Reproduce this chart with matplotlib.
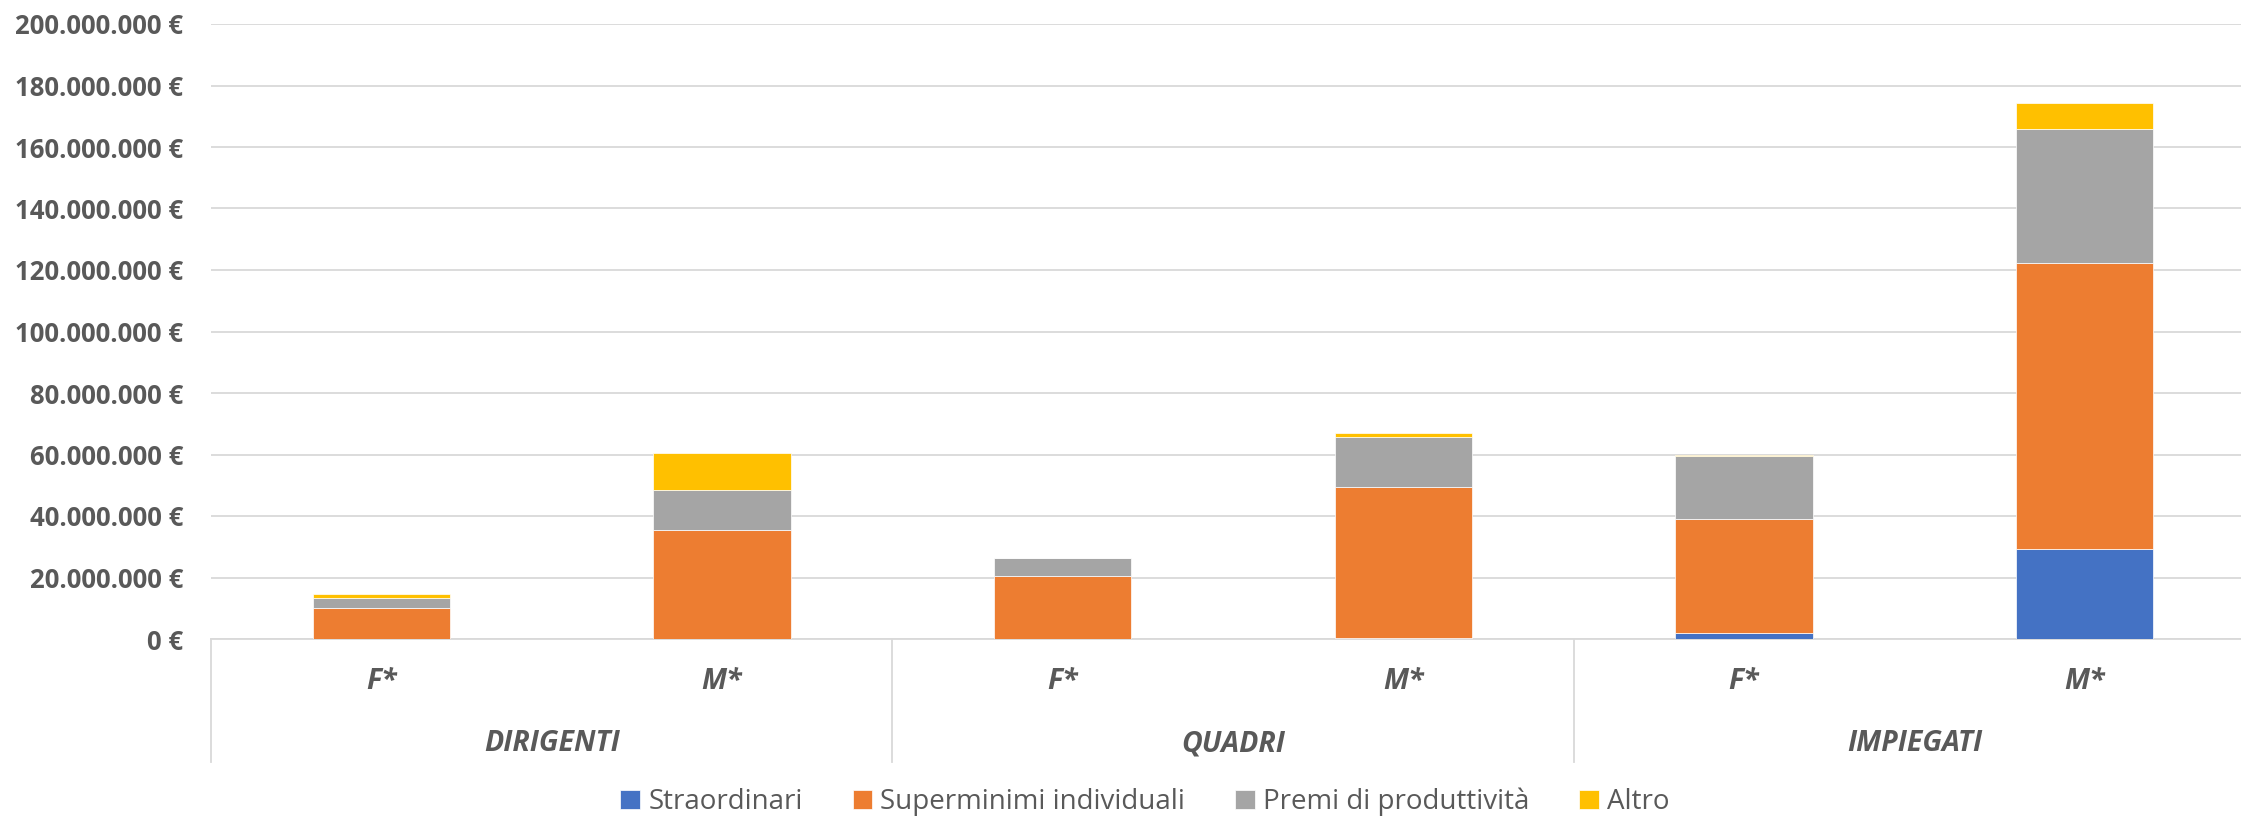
import matplotlib.pyplot as plt
import matplotlib.transforms as mtransforms
from matplotlib.ticker import FuncFormatter, MultipleLocator
import numpy as np

# dati (in milioni di euro)
gruppi = ['DIRIGENTI', 'QUADRI', 'IMPIEGATI']
generi = ['F*', 'M*', 'F*', 'M*', 'F*', 'M*']
straordinari = [0.0, 0.1, 0.1, 0.2, 1.9, 29.4]
superminimi = [10.2, 35.2, 20.3, 49.1, 37.0, 93.0]
premi = [3.2, 13.2, 5.9, 16.5, 20.7, 43.6]
altro = [1.2, 12.1, 0.2, 1.2, 0.4, 8.2]

serie = ['Straordinari', 'Superminimi individuali', 'Premi di produttività', 'Altro']
colori = ['#4472C4', '#ED7D31', '#A5A5A5', '#FFC000']
testo = '#595959'
griglia = '#D9D9D9'

plt.rcParams['font.family'] = ['Open Sans', 'DejaVu Sans']

fig = plt.figure(figsize=(22.41, 8.18), dpi=100)
# l'area del grafico esce leggermente a destra, come nell'originale
ax = fig.add_axes([211 / 2241, 1 - 639 / 818, (2255 - 211) / 2241, (639 - 24) / 818])

x = np.arange(len(generi))
base = np.zeros(len(generi))
for nome, vals, col in zip(serie, [straordinari, superminimi, premi, altro], colori):
    v = np.array(vals) * 1e6
    ax.bar(x, v, bottom=base, width=0.403, color=col, edgecolor='white',
           linewidth=0.5, label=nome, zorder=3)
    base += v

ax.set_xlim(-0.5, 5.5)
ax.set_ylim(0, 200e6)
ax.yaxis.set_major_locator(MultipleLocator(20e6))


def euro(v, pos):
    return f"{int(round(v)):,}".replace(',', '.') + ' €'


ax.yaxis.set_major_formatter(FuncFormatter(euro))
ax.tick_params(axis='y', length=0, pad=20, labelsize=18.5, labelcolor=testo)
for t in ax.get_yticklabels():
    t.set_fontweight('bold')
ax.set_xticks([])
ax.grid(axis='y', color=griglia, linewidth=1.3, zorder=0)
for s in ['left', 'right', 'top']:
    ax.spines[s].set_visible(False)
ax.spines['bottom'].set_color(griglia)
ax.spines['bottom'].set_linewidth(1.3)

# etichette di categoria a due livelli
trans = mtransforms.blended_transform_factory(ax.transData, ax.transAxes)
for xi, g in zip(x, generi):
    ax.text(xi, -0.0699, g, transform=trans, ha='center', va='center',
            fontsize=20.5, fontweight='bold', fontstyle='italic', color=testo)
for i, g in enumerate(gruppi):
    ax.text(2 * i + 0.5, -0.170, g, transform=trans, ha='center', va='center',
            fontsize=20.5, fontweight='bold', fontstyle='italic', color=testo)
for xs in [-0.5, 1.5, 3.5, 5.5]:
    ax.plot([xs, xs], [0, -0.2], transform=trans, color=griglia, linewidth=1.3,
            clip_on=False)

fig.legend(loc='center', bbox_to_anchor=(1145 / 2241, 1 - 802 / 818), ncol=4,
           frameon=False, fontsize=20, handlelength=0.7, handleheight=0.7,
           handletextpad=0.3, columnspacing=1.8, labelcolor=testo)

fig.savefig('out.png', dpi=100)
